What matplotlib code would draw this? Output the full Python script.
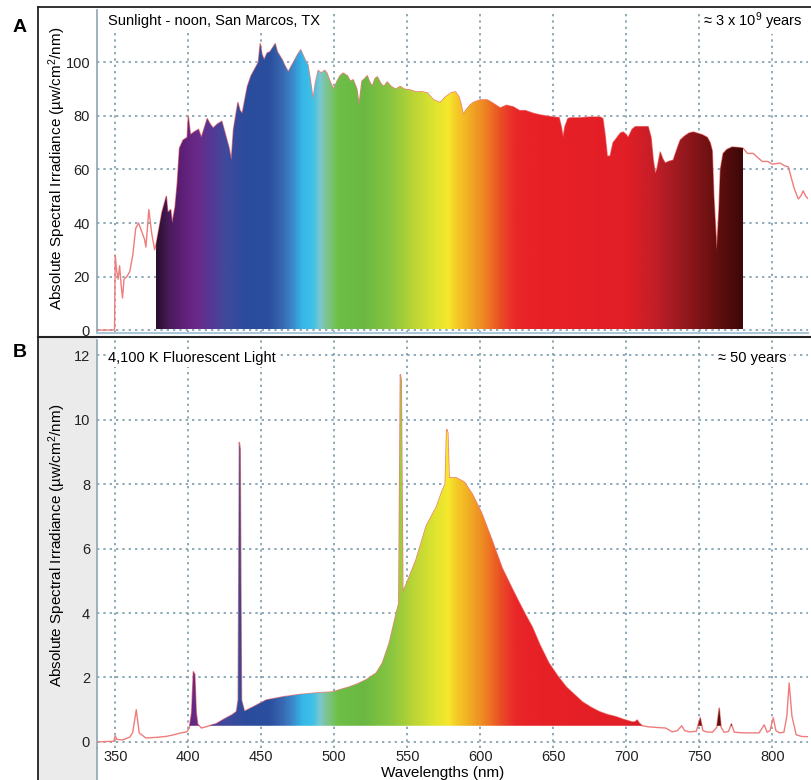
import numpy as np
import matplotlib
matplotlib.use("Agg")
import matplotlib.pyplot as plt
from matplotlib.colors import LinearSegmentedColormap
from matplotlib.path import Path
from matplotlib.patches import Rectangle
from matplotlib.lines import Line2D

plt.rcParams['font.family'] = ['Liberation Sans', 'DejaVu Sans']
plt.rcParams['mathtext.fontset'] = 'custom'
plt.rcParams['mathtext.rm'] = 'Liberation Sans'
plt.rcParams['mathtext.it'] = 'Liberation Sans:italic'
plt.rcParams['mathtext.bf'] = 'Liberation Sans:bold'

# ---- data ----
# A: sunlight, noon, San Marcos TX
sun_wl = [337.5, 349.5, 350, 351, 352, 353, 354, 355, 356, 358, 360, 362, 364, 366, 368,
          370, 371, 373, 375, 377, 378, 380, 382, 384, 385, 386, 388, 389, 391, 392.5,
          394, 396.5, 399.3, 400, 401.5, 404, 407, 409, 413, 415, 417, 420, 423, 426,
          428, 429.5, 431, 434, 435.5, 437, 440.5, 443, 446, 448, 449.3, 450.5, 452,
          454, 456, 459.6, 461, 464.4, 466, 468.5, 472, 475, 477, 480, 482, 484, 485.5,
          487, 489, 491, 493.5, 495, 497, 499.5, 502, 504, 506, 509, 511, 513, 515.5,
          517, 519, 521, 522.6, 524, 526, 528, 529.5, 532, 534, 536.3, 539, 542, 545.2,
          548, 552, 556, 560, 563.7, 568, 572.6, 576, 580, 583, 585.5, 587, 588.4, 590,
          593, 595.2, 600, 604.8, 608, 613.7, 618, 622.6, 627, 631, 636.3, 640, 645,
          650, 654, 655.5, 656.8, 658, 660, 661.6, 668.5, 675, 682.2, 684, 685.5, 687,
          689, 691, 693.8, 696, 698, 700, 701.4, 704, 706.2, 710, 715, 717, 718.5,
          719.9, 721, 723.3, 725, 726.7, 729, 732.2, 735, 737, 740, 743, 746, 749, 752,
          755.5, 757.5, 758.9, 760, 762, 763.5, 764.5, 766.4, 769, 772.6, 777, 780,
          783, 787, 790, 793.2, 797, 800, 805.5, 808, 811, 813, 815, 817.8, 819.5,
          821.2, 823, 824.7]
sun_val = [0, 0, 28, 22, 19, 24, 17, 12, 19, 20, 22, 28, 38, 40, 37,
           34, 31, 45, 36, 30, 32, 38, 44, 48, 50, 44, 45, 40, 46, 55,
           68, 71, 72, 80, 73, 74, 75, 72, 79, 77, 75.5, 77, 78, 72,
           68, 63.5, 75, 85, 82, 81, 91, 95, 98, 100, 107, 103, 101,
           103.5, 104, 107, 104, 101, 99, 96.5, 100, 103, 104.7, 101, 99, 92, 86,
           92, 97, 96, 97, 96, 93, 90, 93, 95, 96, 95, 93, 93.5, 90,
           84, 93, 94, 95, 93, 91, 94, 94.6, 92, 91, 92.7, 91, 90, 91,
           90, 89.7, 89, 89, 88.6, 86, 85, 87, 88.6, 89, 87, 84, 80.4, 82,
           84, 85, 86, 86, 85, 83, 84, 83.4, 82, 82, 81, 80.5, 80,
           79.6, 79.4, 76, 72, 76, 79, 79.3, 79.3, 79.6, 79.6, 79, 73, 65,
           65, 70, 72, 73.6, 74, 73, 72, 75, 76, 76, 76, 72, 63.5,
           58.6, 60, 66.5, 64, 62.4, 63, 63.5, 68, 71, 72.5, 73.6, 74, 73.5, 73,
           72, 70, 67, 50, 30, 45, 60, 66, 67.5, 68.4, 68.2, 68,
           66, 66, 64.5, 63, 63, 62, 62.4, 61.5, 61, 57, 53, 49, 50,
           52, 50, 49]

# B: 4,100 K fluorescent light
fl_wl = [337.5, 349, 350, 351, 355, 360, 362, 364.4, 366.4, 371, 378, 385, 390, 394,
         399, 400.7, 402.3, 403.5, 404.5, 405.5, 406.5, 409, 413, 416.4, 419, 425, 430,
         433, 434.2, 435.0, 435.6, 436.5, 438.5, 445, 453.4, 465, 476, 488, 498.6, 510,
         516, 522, 528.8, 533, 537.7, 542.5, 544.2, 545.3, 545.9, 547.0, 548, 552, 556,
         563, 570, 574, 576, 577.0, 577.8, 578.7, 580, 583.6, 589, 594.5, 601, 608, 615,
         622, 627, 631, 635.6, 641, 647, 653, 659, 665, 670, 676, 681.5, 687, 693, 698,
         704, 706, 707.5, 709, 711, 715, 720, 727, 731.5, 735, 738, 740, 743, 748,
         750.7, 752.5, 755, 759, 762, 763.7, 765, 767, 770, 772, 774, 780, 791, 794.5,
         796.5, 798.5, 800.7, 802.5, 805, 808, 810, 811.6, 813.5, 816.4, 820, 824.5]
fl_val = [0, 0.02, 0.19, 0.08, 0.06, 0.15, 0.3, 1.0, 0.28, 0.12, 0.14, 0.17, 0.22, 0.27,
          0.31, 0.43, 0.9, 2.18, 2.1, 0.9, 0.55, 0.43, 0.48, 0.53, 0.56, 0.72, 0.84,
          0.94, 1.3, 9.3, 9.1, 1.3, 0.95, 1.1, 1.3, 1.4, 1.47, 1.52, 1.55, 1.7,
          1.8, 1.93, 2.14, 2.45, 3.07, 4.0, 4.3, 11.4, 11.2, 4.6, 4.75, 5.2, 5.65,
          6.7, 7.3, 7.8, 8.0, 9.7, 9.6, 8.2, 8.2, 8.2, 8.07, 7.7, 7.1, 6.27, 5.4,
          4.75, 4.3, 3.95, 3.57, 3.0, 2.45, 2.05, 1.7, 1.45, 1.24, 1.07, 0.94, 0.85, 0.78, 0.7,
          0.62, 0.62, 0.68, 0.58, 0.5, 0.47, 0.45, 0.43, 0.31, 0.35, 0.5, 0.35, 0.31, 0.33,
          0.75, 0.35, 0.31, 0.3, 0.45, 1.05, 0.45, 0.3, 0.32, 0.56, 0.3, 0.28, 0.28, 0.53,
          0.3, 0.35, 0.75, 0.35, 0.28, 0.3, 0.8, 1.83, 0.8, 0.22, 0.17, 0.16]

x_ticks = [350, 400, 450, 500, 550, 600, 650, 700, 750, 800]
sun_yticks = [0, 20, 40, 60, 80, 100]
fl_yticks = [0, 2, 4, 6, 8, 10, 12]

# colour of the visible band, by wavelength
band_wl = [378, 385, 395, 405, 415, 425, 440, 455, 465, 472, 478, 485, 490, 496, 502,
           520, 540, 555, 568, 578, 585, 595, 605, 615, 625, 640, 700, 720, 738, 760, 780]
band_col = ['#2a0f30', '#451a55', '#5e1f78', '#6a2a88', '#553895', '#3f4a9c', '#2b4c9c',
            '#2a4f9e', '#3a6ab4', '#3a90d0', '#35b8e6', '#40c0e8', '#7ac8d0', '#7cc480',
            '#6dbf48', '#6ab843', '#8cc63f', '#bcd635', '#dde330', '#f6e82c', '#f4c726',
            '#f0a524', '#ee7c22', '#ea4a26', '#e8262a', '#e82126', '#e21e26', '#c41e28',
            '#9a1a20', '#6a1010', '#3e0808']

band_lo, band_hi = band_wl[0], band_wl[-1]
cmap = LinearSegmentedColormap.from_list(
    'band', [((w - band_lo) / (band_hi - band_lo), c) for w, c in zip(band_wl, band_col)])

W, H = 811, 780
fx = lambda x: x / W
fy = lambda y: 1 - y / H

fig = plt.figure(figsize=(8.11, 7.80), dpi=100)

# grey strip behind the lower y label
fig.patches.append(Rectangle((fx(38), 0), fx(97) - fx(38), fy(337), transform=fig.transFigure,
                             facecolor='#ebebeb', edgecolor='none', zorder=-1))

axA = fig.add_axes([fx(97), fy(333), fx(808) - fx(97), fy(10) - fy(333)])
axB = fig.add_axes([fx(97), fy(748), fx(808) - fx(97), fy(340) - fy(748)])


def rainbow(ax, wl, val, base, top):
    wl = np.asarray(wl, float)
    val = np.asarray(val, float)
    inside = (wl >= band_lo) & (wl <= band_hi)
    poly = ax.fill_between(wl, base, val, where=inside & (val > base), interpolate=True,
                           facecolor='none', edgecolor='none')
    clip = Path.make_compound_path(*poly.get_paths())
    grad = np.linspace(0, 1, 800).reshape(1, -1)
    im = ax.imshow(grad, cmap=cmap, aspect='auto', origin='lower', interpolation='bilinear',
                   extent=(band_lo, band_hi, base, top), zorder=2)
    im.set_clip_path(clip, transform=ax.transData)
    # the trace sits under the colour so only its outer edge shows on the filled part
    ax.plot(wl, val, color='#f07c7c', lw=1.0, zorder=1.9)


rainbow(axA, sun_wl, sun_val, 0.3, 120)
rainbow(axB, fl_wl, fl_val, 0.5, 13)

for ax, yt in ((axA, sun_yticks), (axB, fl_yticks)):
    ax.set_xlim(337.5, 824.5)
    ax.set_xticks(x_ticks)
    ax.set_yticks(yt)
    ax.set_axisbelow(True)
    ax.grid(True, color='#7d9cab', linestyle=(0, (1.4, 2.4)), linewidth=1.2)
    ax.tick_params(axis='y', length=0, pad=5, labelsize=10.5, labelcolor='#222222')
    for s in ('top', 'right'):
        ax.spines[s].set_visible(False)
    ax.spines['left'].set_color('#8fa5b0')
    ax.spines['left'].set_linewidth(1.2)

axA.set_ylim(-1.1, 119.6)
axA.tick_params(axis='x', length=0, labelbottom=False)
axA.spines['bottom'].set_color('#a9c7d6')
axA.spines['bottom'].set_linewidth(1.5)

axB.set_ylim(-0.19, 12.48)
axB.tick_params(axis='x', length=0, pad=1.5, labelsize=10.5, labelcolor='#222222')
axB.spines['bottom'].set_visible(False)

# panel frame
fig.lines.append(Line2D([fx(38), fx(811)], [fy(7), fy(7)], transform=fig.transFigure,
                        color='#222222', lw=1.3))
fig.lines.append(Line2D([fx(38), fx(38)], [fy(7), 0], transform=fig.transFigure,
                        color='#222222', lw=1.3))
fig.lines.append(Line2D([fx(38), fx(811)], [fy(336.5), fy(336.5)], transform=fig.transFigure,
                        color='#222222', lw=1.5))
fig.lines.append(Line2D([fx(97), fx(97)], [fy(748), 0], transform=fig.transFigure,
                        color='#8fa5b0', lw=1.2))

ylab = 'Absolute Spectral Irradiance (µw/cm$^2$/nm)'
fig.text(fx(57), fy(168), ylab, rotation=90, ha='center', va='center', fontsize=11)
fig.text(fx(57), fy(545), ylab, rotation=90, ha='center', va='center', fontsize=11)
fig.text(fx(443), fy(773), 'Wavelengths (nm)', ha='center', va='center', fontsize=11)

fig.text(fx(20), fy(27), 'A', ha='center', va='center', fontsize=14, fontweight='bold')
fig.text(fx(20), fy(353), 'B', ha='center', va='center', fontsize=14, fontweight='bold')

box = dict(facecolor='white', edgecolor='none', pad=1.5)
fig.text(fx(108), fy(21), 'Sunlight - noon, San Marcos, TX', ha='left', va='center',
         fontsize=10.5, bbox=box)
fig.text(fx(703), fy(21), '≈ 3 x 10$^{9}$ years', ha='left', va='center', fontsize=10.5, bbox=box)
fig.text(fx(108), fy(358), '4,100 K Fluorescent Light', ha='left', va='center',
         fontsize=10.5, bbox=box)
fig.text(fx(718), fy(358), '≈ 50 years', ha='left', va='center', fontsize=10.5, bbox=box)

fig.savefig('out.png', dpi=100)
